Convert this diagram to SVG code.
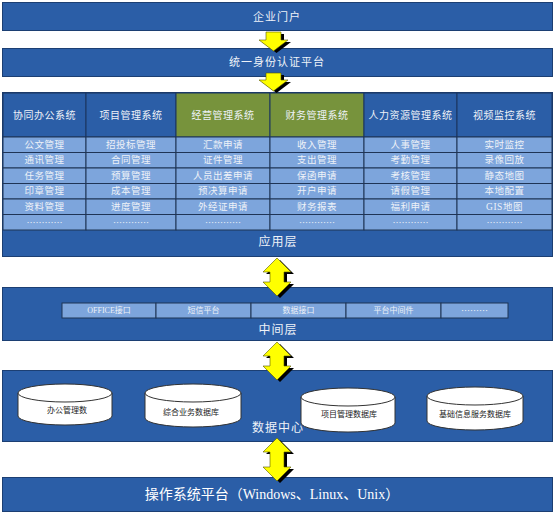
<svg xmlns="http://www.w3.org/2000/svg" width="555" height="513" viewBox="0 0 555 513">
<defs>
<style>
.bar{fill:#2B5EA7;stroke:#1C3F73;stroke-width:1}
.hdr{fill:#2B5EA7;stroke:#1A355F;stroke-width:1}
.hdrg{fill:#77933C;stroke:#1A355F;stroke-width:1}
.cell{fill:#7DA5DC;stroke:#1F3455;stroke-width:1}
.t{font-family:"Liberation Serif","Noto Sans CJK SC",serif;fill:#EEF2F8;text-anchor:middle;dominant-baseline:central}
.big{font-size:11px;letter-spacing:1px}
.lay{font-size:12px;letter-spacing:1px}
.h{font-size:10px;letter-spacing:0.5px}
.c{font-size:9.5px;letter-spacing:0.5px}
.m{font-size:8px}
.d{font-family:"Noto Sans CJK SC",sans-serif;font-size:9px;letter-spacing:0}
.db{fill:#FFFFFF;stroke:#333333;stroke-width:1}
.dt{font-family:"Liberation Serif","Noto Sans CJK SC",serif;fill:#222222;font-size:8px;text-anchor:middle;dominant-baseline:central}
.arr{fill:#FFFF00;stroke:#555500;stroke-width:0.6}
.sh{fill:#000000}
.os{font-family:"Liberation Serif","Noto Sans CJK SC",serif;fill:#FFFFFF;font-size:14px;text-anchor:middle;dominant-baseline:central}
</style>
</defs>

<g id="portal">
<rect class="bar" x="2.5" y="2.5" width="550" height="28"/>
<text class="t big" x="277" y="17">企业门户</text>
</g>

<g id="auth">
<rect class="bar" x="2.5" y="48.5" width="550" height="28"/>
<text class="t big" x="277" y="62">统一身份认证平台</text>
</g>

<g id="app-layer">
<rect class="bar" x="2.5" y="92.5" width="550" height="164"/>
<text class="t lay" x="278" y="242">应用层</text>
</g>

<g id="col-oa">
<rect class="hdr" x="3" y="93" width="83" height="44"/>
<text class="t h" x="44.5" y="115">协同办公系统</text>
<rect class="cell" x="3" y="137" width="83" height="15.5"/>
<rect class="cell" x="3" y="152.5" width="83" height="15.5"/>
<rect class="cell" x="3" y="168" width="83" height="15.5"/>
<rect class="cell" x="3" y="183.5" width="83" height="15.5"/>
<rect class="cell" x="3" y="199" width="83" height="15.5"/>
<rect class="cell" x="3" y="214.5" width="83" height="15.5"/>
<text class="t c" x="44.5" y="144.5">公文管理</text>
<text class="t c" x="44.5" y="160">通讯管理</text>
<text class="t c" x="44.5" y="175.5">任务管理</text>
<text class="t c" x="44.5" y="191">印章管理</text>
<text class="t c" x="44.5" y="206.5">资料管理</text>
<text class="t d" x="44.5" y="222">…………</text>
</g>

<g id="col-project">
<rect class="hdr" x="86" y="93" width="90" height="44"/>
<text class="t h" x="131" y="115">项目管理系统</text>
<rect class="cell" x="86" y="137" width="90" height="15.5"/>
<rect class="cell" x="86" y="152.5" width="90" height="15.5"/>
<rect class="cell" x="86" y="168" width="90" height="15.5"/>
<rect class="cell" x="86" y="183.5" width="90" height="15.5"/>
<rect class="cell" x="86" y="199" width="90" height="15.5"/>
<rect class="cell" x="86" y="214.5" width="90" height="15.5"/>
<text class="t c" x="131" y="144.5">招投标管理</text>
<text class="t c" x="131" y="160">合同管理</text>
<text class="t c" x="131" y="175.5">预算管理</text>
<text class="t c" x="131" y="191">成本管理</text>
<text class="t c" x="131" y="206.5">进度管理</text>
<text class="t d" x="131" y="222">…………</text>
</g>

<g id="col-business">
<rect class="hdrg" x="176" y="93" width="94" height="44"/>
<text class="t h" x="223" y="115">经营管理系统</text>
<rect class="cell" x="176" y="137" width="94" height="15.5"/>
<rect class="cell" x="176" y="152.5" width="94" height="15.5"/>
<rect class="cell" x="176" y="168" width="94" height="15.5"/>
<rect class="cell" x="176" y="183.5" width="94" height="15.5"/>
<rect class="cell" x="176" y="199" width="94" height="15.5"/>
<rect class="cell" x="176" y="214.5" width="94" height="15.5"/>
<text class="t c" x="223" y="144.5">汇款申请</text>
<text class="t c" x="223" y="160">证件管理</text>
<text class="t c" x="223" y="175.5">人员出差申请</text>
<text class="t c" x="223" y="191">预决算申请</text>
<text class="t c" x="223" y="206.5">外经证申请</text>
<text class="t d" x="223" y="222">…………</text>
</g>

<g id="col-finance">
<rect class="hdrg" x="270" y="93" width="94" height="44"/>
<text class="t h" x="317" y="115">财务管理系统</text>
<rect class="cell" x="270" y="137" width="94" height="15.5"/>
<rect class="cell" x="270" y="152.5" width="94" height="15.5"/>
<rect class="cell" x="270" y="168" width="94" height="15.5"/>
<rect class="cell" x="270" y="183.5" width="94" height="15.5"/>
<rect class="cell" x="270" y="199" width="94" height="15.5"/>
<rect class="cell" x="270" y="214.5" width="94" height="15.5"/>
<text class="t c" x="317" y="144.5">收入管理</text>
<text class="t c" x="317" y="160">支出管理</text>
<text class="t c" x="317" y="175.5">保函申请</text>
<text class="t c" x="317" y="191">开户申请</text>
<text class="t c" x="317" y="206.5">财务报表</text>
<text class="t d" x="317" y="222">…………</text>
</g>

<g id="col-hr">
<rect class="hdr" x="364" y="93" width="93" height="44"/>
<text class="t h" x="410.5" y="115">人力资源管理系统</text>
<rect class="cell" x="364" y="137" width="93" height="15.5"/>
<rect class="cell" x="364" y="152.5" width="93" height="15.5"/>
<rect class="cell" x="364" y="168" width="93" height="15.5"/>
<rect class="cell" x="364" y="183.5" width="93" height="15.5"/>
<rect class="cell" x="364" y="199" width="93" height="15.5"/>
<rect class="cell" x="364" y="214.5" width="93" height="15.5"/>
<text class="t c" x="410.5" y="144.5">人事管理</text>
<text class="t c" x="410.5" y="160">考勤管理</text>
<text class="t c" x="410.5" y="175.5">考核管理</text>
<text class="t c" x="410.5" y="191">请假管理</text>
<text class="t c" x="410.5" y="206.5">福利申请</text>
<text class="t d" x="410.5" y="222">…………</text>
</g>

<g id="col-video">
<rect class="hdr" x="457" y="93" width="95" height="44"/>
<text class="t h" x="504.5" y="115">视频监控系统</text>
<rect class="cell" x="457" y="137" width="95" height="15.5"/>
<rect class="cell" x="457" y="152.5" width="95" height="15.5"/>
<rect class="cell" x="457" y="168" width="95" height="15.5"/>
<rect class="cell" x="457" y="183.5" width="95" height="15.5"/>
<rect class="cell" x="457" y="199" width="95" height="15.5"/>
<rect class="cell" x="457" y="214.5" width="95" height="15.5"/>
<text class="t c" x="504.5" y="144.5">实时监控</text>
<text class="t c" x="504.5" y="160">录像回放</text>
<text class="t c" x="504.5" y="175.5">静态地图</text>
<text class="t c" x="504.5" y="191">本地配置</text>
<text class="t c" x="504.5" y="206.5">GIS地图</text>
<text class="t d" x="504.5" y="222">…………</text>
</g>

<g id="middle-layer">
<rect class="bar" x="2.5" y="287.5" width="550" height="53"/>
<rect class="cell" x="62" y="303" width="94" height="15"/>
<rect class="cell" x="156" y="303" width="95" height="15"/>
<rect class="cell" x="251" y="303" width="95" height="15"/>
<rect class="cell" x="346" y="303" width="95" height="15"/>
<rect class="cell" x="441" y="303" width="67" height="15"/>
<text class="t m" x="109" y="310.5">OFFICE接口</text>
<text class="t m" x="203.5" y="310.5">短信平台</text>
<text class="t m" x="298.5" y="310.5">数据接口</text>
<text class="t m" x="393.5" y="310.5">平台中间件</text>
<text class="t d" x="474.5" y="310.5">………</text>
<text class="t lay" x="278" y="330">中间层</text>
</g>

<g id="data-center">
<rect class="bar" x="2.5" y="370.5" width="550" height="71"/>
<text class="t lay" x="278" y="428">数据中心</text>
</g>

<g id="db-office">
<path class="db" d="M18,393 L18,416 A47,9 0 0 0 112,416 L112,393 Z"/>
<ellipse class="db" cx="65" cy="393" rx="47" ry="9"/>
<text class="dt" x="67" y="410">办公管理数</text>
</g>
<g id="db-business">
<path class="db" d="M145,393 L145,418 A48,9 0 0 0 241,418 L241,393 Z"/>
<ellipse class="db" cx="193" cy="393" rx="48" ry="9"/>
<text class="dt" x="191" y="412">综合业务数据库</text>
</g>
<g id="db-project">
<path class="db" d="M301,397 L301,423 A47,9 0 0 0 395,423 L395,397 Z"/>
<ellipse class="db" cx="348" cy="397" rx="47" ry="9"/>
<text class="dt" x="349" y="414">项目管理数据库</text>
</g>
<g id="db-basic">
<path class="db" d="M427,396 L427,421 A48,9 0 0 0 523,421 L523,396 Z"/>
<ellipse class="db" cx="475" cy="396" rx="48" ry="9"/>
<text class="dt" x="475" y="414">基础信息服务数据库</text>
</g>

<g id="os">
<rect class="bar" x="2.5" y="477.5" width="550" height="34"/>
<text class="os" x="272" y="494">操作系统平台（Windows、Linux、Unix）</text>
</g>

<g id="connectors">
<path class="sh" transform="translate(3,2)" d="M266,32 L281,32 L281,40 L288,40 L273.5,51 L259,40 L266,40 Z"/>
<path class="arr" d="M266,32 L281,32 L281,40 L288,40 L273.5,51 L259,40 L266,40 Z"/>
<path class="sh" transform="translate(3,2)" d="M266,73 L281,73 L281,80 L288,80 L273.5,91 L259,80 L266,80 Z"/>
<path class="arr" d="M266,73 L281,73 L281,80 L288,80 L273.5,91 L259,80 L266,80 Z"/>
<path class="sh" transform="translate(3,2)" d="M277,258 L291,272 L284,272 L284,282 L291,282 L277,296 L263,282 L270,282 L270,272 L263,272 Z"/>
<path class="arr" d="M277,258 L291,272 L284,272 L284,282 L291,282 L277,296 L263,282 L270,282 L270,272 L263,272 Z"/>
<path class="sh" transform="translate(3,2)" d="M277,342 L291,356 L284,356 L284,366 L291,366 L277,380 L263,366 L270,366 L270,356 L263,356 Z"/>
<path class="arr" d="M277,342 L291,356 L284,356 L284,366 L291,366 L277,380 L263,366 L270,366 L270,356 L263,356 Z"/>
<path class="sh" transform="translate(3,2)" d="M277,438 L291,452 L284,452 L284,467 L291,467 L277,481 L263,467 L270,467 L270,452 L263,452 Z"/>
<path class="arr" d="M277,438 L291,452 L284,452 L284,467 L291,467 L277,481 L263,467 L270,467 L270,452 L263,452 Z"/>
</g>
</svg>
